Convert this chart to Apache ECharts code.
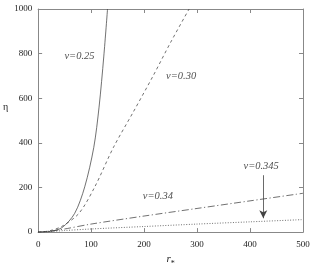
<!DOCTYPE html>
<html><head><meta charset="utf-8">
<script src="https://cdn.jsdelivr.net/npm/echarts@6/dist/echarts.min.js"></script>
<style>html,body{margin:0;padding:0;background:#fff}#c{width:314px;height:273px}</style>
</head><body><div id="c"></div>
<script>
var xTicks = [0, 100, 200, 300, 400, 500];
var yTicks = [0, 200, 400, 600, 800, 1000];
var v025 = [[0,0],[20,2],[45,20],[69,84],[88,203],[105,379],[115,560],[124,789],[131,1000]];
var v030 = [[0,0],[20,5],[45,26],[77,84],[107,203],[142,379],[180,540],[217,700],[250,850],[285,1000]];
var v034 = [[0,0],[25,5],[50,14],[100,36],[200,72],[300,106],[400,140],[500,174]];
var v0345 = [[0,0],[25,3],[50,7],[100,14],[200,25],[300,36],[400,46],[500,56]];
var labels = [
  {name:'v=0.25', value:[78, 789]},
  {name:'v=0.30', value:[270, 700]},
  {name:'v=0.34', value:[226, 163]},
  {name:'v=0.345', value:[421, 295]}
];
var arrowFrom = [425, 255];
var arrowTo = [425, 62];

var chart = echarts.init(document.getElementById('c'), null, {renderer:'canvas'});
var serif = "'Liberation Serif', 'Times New Roman', serif";
var axisCol = '#888';
var lineCol = '#333';
function baseX(pos, showLabel){
  return {type:'value', position:pos, min:0, max:500, interval:100,
    axisLine:{show:true, onZero:false, lineStyle:{color:axisCol, width:1}},
    axisTick:{show:true, inside:true, length:4, lineStyle:{color:axisCol}},
    splitLine:{show:false},
    axisLabel:{show:showLabel, color:'#222', fontFamily:serif, fontSize:9, margin:8,
      formatter:function(v){return String(v);}}};
}
function baseY(pos, showLabel){
  return {type:'value', position:pos, min:0, max:1000, interval:200,
    axisLine:{show:true, onZero:false, lineStyle:{color:axisCol, width:1}},
    axisTick:{show:true, inside:true, length:4, lineStyle:{color:axisCol}},
    splitLine:{show:false},
    axisLabel:{show:showLabel, color:'#222', fontFamily:serif, fontSize:9, margin:6,
      formatter:function(v){return String(v);}}};
}
var xb = baseX('bottom', true);
xb.name = '{r|r}{s|*}';
xb.nameLocation = 'middle';
xb.nameGap = 18;
xb.nameTextStyle = {rich:{r:{fontFamily:serif, fontStyle:'italic', fontSize:11, color:'#222'},
  s:{fontFamily:serif, fontSize:8, color:'#222', padding:[9,0,0,0]}}};
var yl = baseY('left', true);
yl.name = 'η\n\n\n';
yl.nameLocation = 'middle';
yl.nameRotate = 0;
yl.nameGap = 29;
yl.nameTextStyle = {fontFamily:serif, fontSize:10, lineHeight:9, color:'#222'};

function lineSeries(data, dash){
  return {type:'line', data:data, smooth:0.3, showSymbol:false, symbol:'none',
    lineStyle:{color:lineCol, width:0.7, type: dash}, silent:true, z:2};
}
var sDot = lineSeries(v0345, [1,1.6]);
sDot.markLine = {silent:true, symbol:['none','arrow'], symbolSize:[6,8],
  lineStyle:{color:'#444', width:0.8, type:'solid'}, label:{show:false},
  data:[[{coord:arrowFrom},{coord:arrowTo}]]};

chart.setOption({
  animation:false,
  grid:{left:36, right:11, top:9, bottom:37, containLabel:false},
  xAxis:[xb, baseX('top', false)],
  yAxis:[yl, baseY('right', false)],
  series:[
    lineSeries(v025, 'solid'),
    lineSeries(v030, [3,3]),
    lineSeries(v034, [7,2.5,1.2,2.5]),
    sDot,
    {type:'scatter', data:labels, symbolSize:0, silent:true,
      label:{show:true, position:'inside', formatter:function(p){return p.name;},
        fontFamily:serif, fontStyle:'italic', fontSize:10.5, color:'#222'}}
  ]
});
</script></body></html>
